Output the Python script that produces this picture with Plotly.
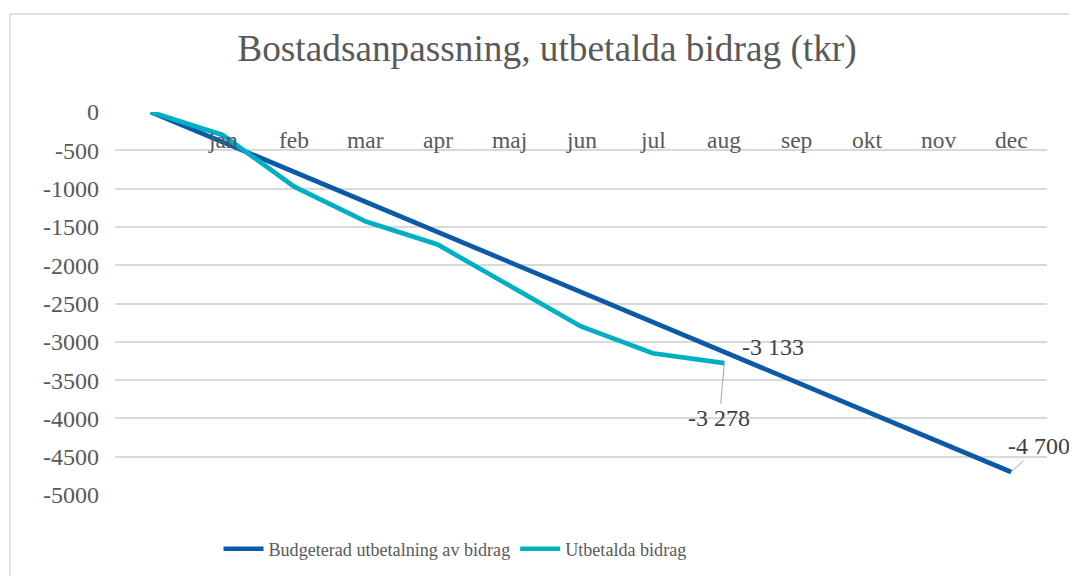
import plotly.graph_objects as go

categories = ["", "jan", "feb", "mar", "apr", "maj", "jun", "jul", "aug", "sep", "okt", "nov", "dec"]
budget = [0, -392, -783, -1175, -1567, -1958, -2350, -2742, -3133, -3525, -3917, -4308, -4700]
utbetalda = [0, -300, -975, -1430, -1730, -2270, -2800, -3150, -3278]

series_names = ["Budgeterad utbetalning av bidrag", "Utbetalda bidrag"]
y_ticks = [0, -500, -1000, -1500, -2000, -2500, -3000, -3500, -4000, -4500, -5000]

FONT = "Liberation Serif, Times New Roman, serif"
GRAY = "#595959"
BLUE = "#0C59A8"
TEAL = "#00B0C2"

# page body has an 8px margin; figure coords = page coords - 8
OFF = 8
W, H = 1077 - OFF, 576 - OFF
PL, PR, PT, PB = 115 - OFF, 1047 - OFF, 112 - OFF, 495 - OFF  # plot area in figure coords
PW, PH = PR - PL, PB - PT

x_idx = list(range(len(categories)))

fig = go.Figure()
fig.add_trace(go.Scatter(x=x_idx, y=budget, mode="lines", name=series_names[0],
                         line=dict(color=BLUE, width=4.7)))
fig.add_trace(go.Scatter(x=x_idx[:len(utbetalda)], y=utbetalda, mode="lines", name=series_names[1],
                         line=dict(color=TEAL, width=4.7)))

# category labels just below the zero line (Excel style axis crossing at 0)
for i, c in zip(x_idx, categories):
    if c:
        fig.add_annotation(x=i, y=0, xref="x", yref="y", text=c, showarrow=False,
                           yanchor="middle", yshift=-28,
                           font=dict(family=FONT, size=23.5, color=GRAY))

def fmt(v):
    s = f"{abs(v):,}".replace(",", " ")
    return ("-" if v < 0 else "") + s

LBL = dict(family=FONT, size=24, color="#404040")
fig.add_annotation(x=8, y=budget[8], text=fmt(budget[8]), showarrow=False,
                   xshift=49, yshift=5, font=LBL)
fig.add_annotation(x=8, y=utbetalda[8], text=fmt(utbetalda[8]), showarrow=True,
                   arrowhead=0, arrowwidth=1, arrowcolor="#a6a6a6", ax=-5, ay=55, font=LBL)
fig.add_annotation(x=12, y=budget[12], text=fmt(budget[12]), showarrow=True,
                   arrowhead=0, arrowwidth=1, arrowcolor="#a6a6a6", ax=28, ay=-26, font=LBL)

# chart border
fig.add_shape(type="rect", xref="paper", yref="paper",
              x0=(10 - OFF - PL) / PW, x1=(1090 - OFF - PL) / PW,
              y0=(PB - 600) / PH, y1=(PB - (14 - OFF)) / PH,
              line=dict(color="#d9d9d9", width=1.5), fillcolor="rgba(0,0,0,0)", layer="below")

fig.update_layout(
    width=W, height=H,
    margin=dict(l=PL, r=W - PR, t=PT, b=H - PB, autoexpand=False),
    paper_bgcolor="white", plot_bgcolor="white",
    title=dict(text="Bostadsanpassning, utbetalda bidrag (tkr)", xref="container",
               x=(547 - OFF) / W, y=1 - (48 - OFF) / H, xanchor="center", yanchor="middle",
               font=dict(family=FONT, size=37.3, color=GRAY)),
    xaxis=dict(range=[-0.5, 12.5], tickvals=x_idx, showticklabels=False, showgrid=False,
               zeroline=False, showline=False, ticks="", fixedrange=True),
    yaxis=dict(range=[-5000, 0], tickvals=y_ticks, ticktext=[str(v) for v in y_ticks],
               showgrid=True, gridcolor="#d9d9d9", gridwidth=1.5, zeroline=False,
               showline=False, ticks="", ticklabelstandoff=15,
               tickfont=dict(family=FONT, size=24, color=GRAY)),
    legend=dict(orientation="h", xref="container", yref="container",
                x=(455 - OFF) / W, xanchor="center",
                y=1 - (549 - OFF) / H, yanchor="middle",
                font=dict(family=FONT, size=18.1, color=GRAY), itemwidth=40),
    showlegend=True,
)

fig.write_html("out.html")
